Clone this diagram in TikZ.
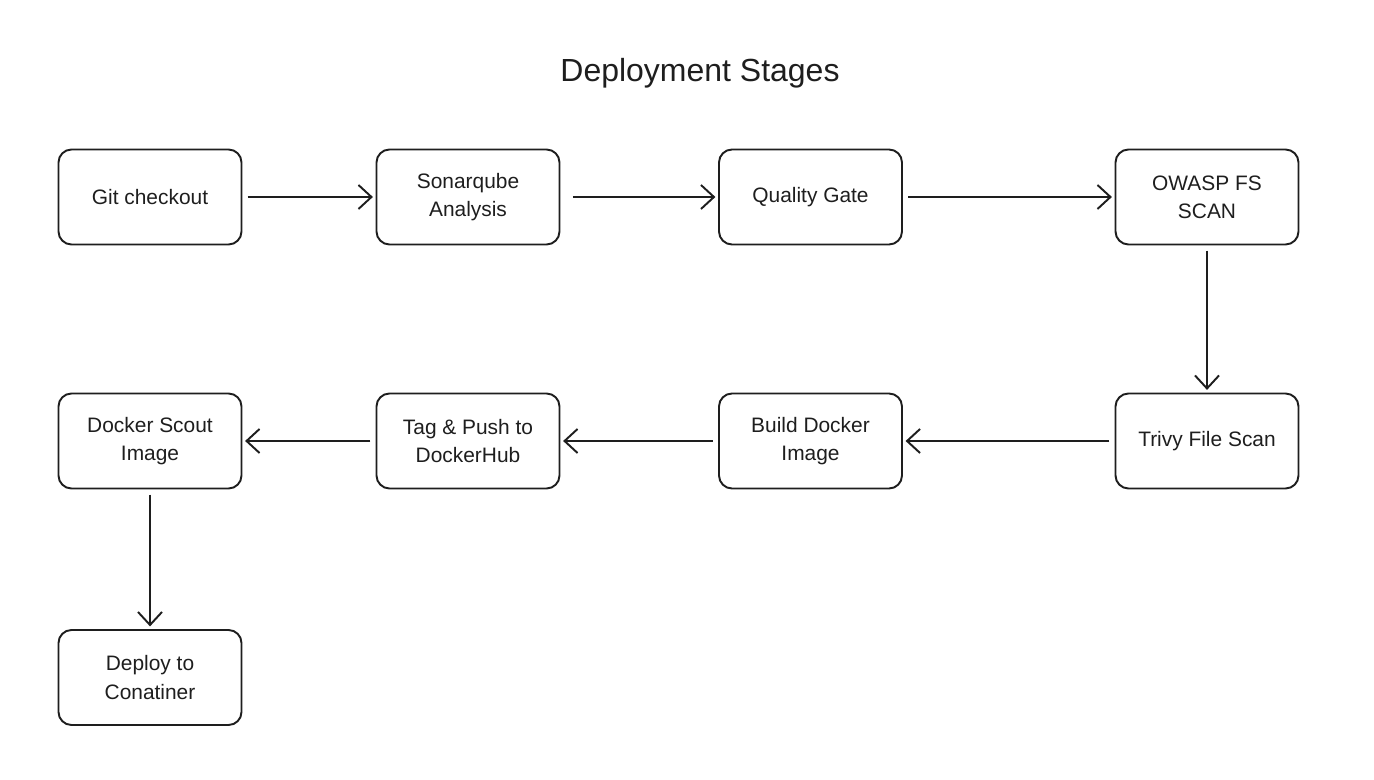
\documentclass[tikz,border=0pt]{standalone}
\usepackage{fontspec}
\setmainfont{Liberation Sans}
\usetikzlibrary{arrows.meta}
\definecolor{ink}{HTML}{1E1E1E}
\tikzset{
  stage/.style={draw=ink, line width=1.1pt, rounded corners=0.26cm, minimum width=3.66cm, minimum height=1.9cm, align=center, text=ink, font=\fontsize{11.9pt}{16pt}\selectfont, inner sep=0pt},
  flow/.style={draw=ink, line width=1.1pt, -{Straight Barb[length=2.6mm, width=4.8mm, line width=1.1pt]}, shorten <=3pt, shorten >=1.5pt}
}
\begin{document}
\begin{tikzpicture}
\useasboundingbox[fill=white] (0,0) rectangle (27.48,-15.6);
\node[anchor=base, text=ink, font=\fontsize{18.2pt}{22pt}\selectfont] (title) at (14.0,-1.64) {Deployment Stages};
\node[stage] (git) at (3.0,-3.94) {Git checkout};
\node[stage] (sonar) at (9.36,-3.94) {Sonarqube\\Analysis};
\node[stage] (qg) at (16.21,-3.94) {Quality Gate};
\node[stage] (owasp) at (24.14,-3.94) {OWASP FS\\SCAN};
\node[stage] (trivy) at (24.14,-8.82) {Trivy File Scan};
\node[stage] (build) at (16.21,-8.82) {Build Docker\\Image};
\node[stage] (tag) at (9.36,-8.82) {Tag \& Push to\\DockerHub};
\node[stage] (scout) at (3.0,-8.82) {Docker Scout\\Image};
\node[stage] (deploy) at (3.0,-13.55) {Deploy to\\Conatiner};
\draw[flow] (git) -- (sonar);
\draw[flow, shorten <=7pt] (sonar) -- (qg);
\draw[flow] (qg) -- (owasp);
\draw[flow] (owasp) -- (trivy);
\draw[flow] (trivy) -- (build);
\draw[flow] (build) -- (tag);
\draw[flow] (tag) -- (scout);
\draw[flow] (scout) -- (deploy);
\end{tikzpicture}
\end{document}
